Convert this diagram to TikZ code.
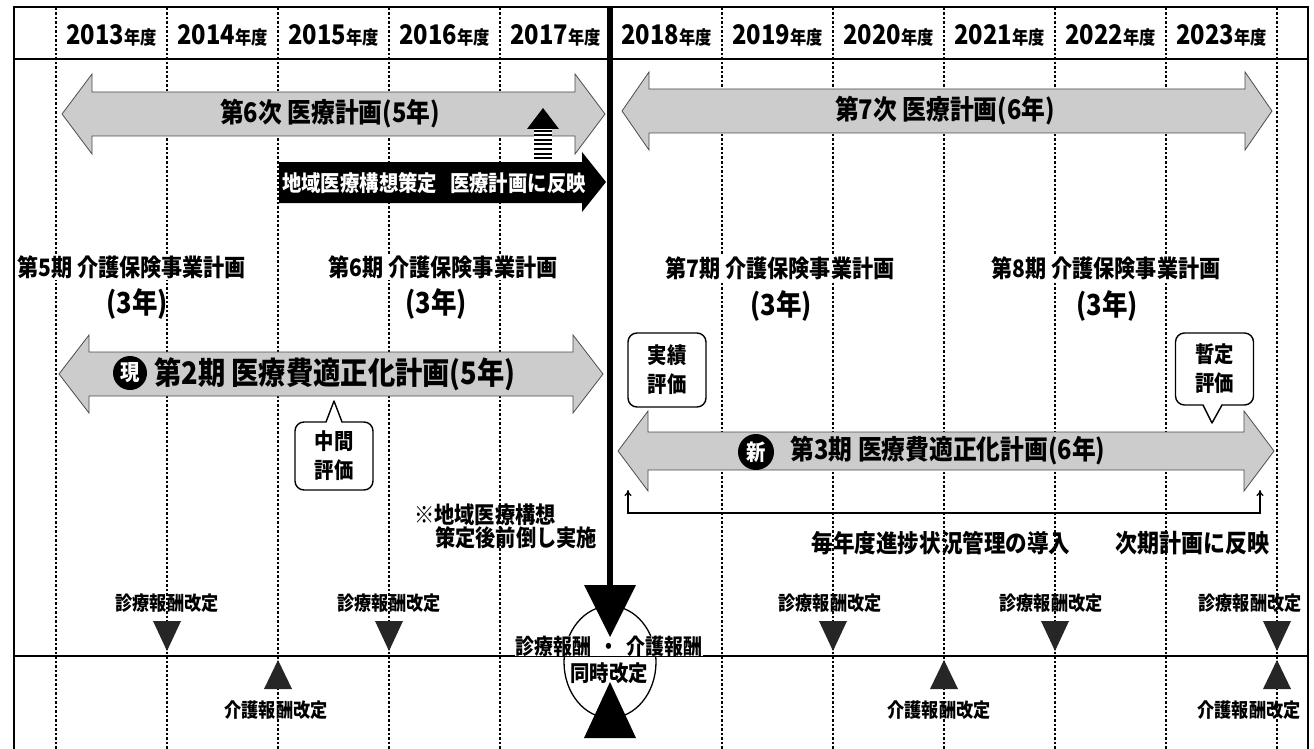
\documentclass[tikz,border=0pt]{standalone}
\usepackage{fontspec}
\usetikzlibrary{shapes.geometric,arrows.meta}
\newfontfamily\jp[FakeStretch=0.88]{Noto Sans CJK JP}
\newcommand\jpsz[1]{\fontsize{#1pt}{#1pt}\selectfont}
\newcommand\dblarr[6]{% x1,x2,yc,body half,head half,head length
  \draw[stip] (#1,#3) -- (#1+#6,#3-#5) -- (#1+#6,#3-#4) -- (#2-#6,#3-#4) -- (#2-#6,#3-#5) -- (#2,#3)
    -- (#2-#6,#3+#5) -- (#2-#6,#3+#4) -- (#1+#6,#3+#4) -- (#1+#6,#3+#5) -- cycle;}
\tikzset{
  frameline/.style={line width=2.2pt},
  gridline/.style={line width=1.6pt, dash pattern=on 2.5pt off 2pt},
  stip/.style={fill=black!20, draw=black!70, line width=0.8pt},
  yearlbl/.style={font=\jp\bfseries, inner sep=1pt},
  txt/.style={font=\jp\bfseries\jpsz{#1}, inner sep=1pt},
  kaigo/.style={font=\jp\bfseries\jpsz{24}, inner sep=1pt, fill=white},
  callbox/.style={draw, line width=1.4pt, rounded corners=9pt, fill=white, minimum width=78pt,
    align=center, font=\jp\bfseries\fontsize{22pt}{29pt}\selectfont, inner sep=0pt},
  blackdisc/.style={circle, fill=black, text=white, inner sep=0pt, font=\jp\bfseries\jpsz{22}},
  revtri/.style={fill=black!85},
}
\begin{document}
\begin{tikzpicture}[x=1pt,y=-1pt]
\useasboundingbox (0,0) rectangle (1314,749);
\fill[white] (0,0) rectangle (1314,749);

% year grid
\foreach \gx in {56,167,278,389,500,722,833,944,1055,1166,1277}
  \draw[gridline] (\gx,8) -- (\gx,749);

% frame
\draw[frameline] (14,749) -- (14,7) -- (1308,7) -- (1308,749);
\draw[frameline] (14,59) -- (1308,59);
\draw[line width=6pt] (610,7) -- (610,588);

% years
\foreach \yr/\cx in {2013/111.5,2014/222.5,2015/333.5,2016/444.5,2017/555.5,
                     2018/666.5,2019/777.5,2020/888.5,2021/999.5,2022/1110.5,2023/1221.5}
  \node[yearlbl] (y\yr) at (\cx,35) {\jpsz{27}\yr\jpsz{18.5}年度};

% revision line
\draw[line width=1.6pt] (14,656) -- (1308,656);

% plan arrows
\dblarr{62}{605}{114}{22}{40}{30}
\dblarr{622}{1272}{111}{22}{39}{27}
\dblarr{59}{603}{374}{22}{39}{30}
\dblarr{618}{1274}{451}{19}{40}{30}

\node[txt=27] (t6) at (330,114) {第6次 医療計画(5年)};
\node[txt=27] (t7) at (945,111) {第7次 医療計画(6年)};
\node[txt=31] (t2) at (335,374) {第2期 医療費適正化計画(5年)};
\node[txt=27] (t3) at (948,451) {第3期 医療費適正化計画(6年)};
\node[blackdisc, minimum size=34pt] (gen) at (130,373) {現};
\node[blackdisc, minimum size=36pt] (shin) at (756,452) {新};

% black arrow
\fill (279,162) -- (582,162) -- (582,152) -- (606,182) -- (582,212) -- (582,203) -- (279,203) -- cycle;
\node[txt=22, text=white] (kousou) at (434,183) {地域医療構想策定\hspace{0.6em}医療計画に反映};

% striped up arrow
\fill (527,129) -- (543,108) -- (559,129) -- cycle;
\fill[white] (534,129) rectangle (552,161);
\foreach \sy in {131,135.5,...,159}
  \draw[line width=2pt] (534,\sy) -- (552,\sy);

% care insurance plans
\node[kaigo, anchor=west] (k5) at (16,267) {第5期 介護保険事業計画};
\node[kaigo] (k6) at (443,267) {第6期 介護保険事業計画};
\node[kaigo] (k7) at (780,268) {第7期 介護保険事業計画};
\node[kaigo] (k8) at (1106,268) {第8期 介護保険事業計画};
\node[txt=29] (n5) at (137,304) {(3年)};
\node[txt=29] (n6) at (436,304) {(3年)};
\node[txt=29] (n7) at (781,306) {(3年)};
\node[txt=29] (n8) at (1107,306) {(3年)};

% callouts
\node[callbox, minimum height=68pt] (cm) at (334,456) {中間\\評価};
\fill[white] (326,424) -- (334,401) -- (342,424) -- cycle;
\draw[line width=1.4pt, line join=round] (326,422) -- (334,401) -- (342,422);

\node[callbox, minimum height=74pt] (cj) at (667,370) {実績\\評価};

\node[callbox, minimum height=72pt] (cz) at (1214.5,369) {暫定\\評価};
\fill[white] (1203,403) -- (1212,423) -- (1222,403) -- cycle;
\draw[line width=1.4pt, line join=round] (1203,405) -- (1212,423) -- (1222,405);

% progress bracket
\coordinate (brL) at (628,490);
\coordinate (brR) at (1260,490);
\draw[line width=1.2pt, {To[length=6pt,width=7pt]}-{To[length=6pt,width=7pt]}] (brL) -- ++(0,23) -| (brR);
\node[txt=24.5] (kanri) at (941,543) {毎年度進捗状況管理の導入};
\node[txt=25] (jiki) at (1192,543) {次期計画に反映};

% note
\node[txt=23, anchor=west] (note1) at (413,515) {※地域医療構想};
\node[txt=23, anchor=west] (note2) at (434,538) {策定後前倒し実施};

% revisions
\foreach \tx/\lx in {167/167,389/389,833/830,1055/1051,1277/1250}{
  \fill[revtri] (\tx-14,621) -- (\tx+14,621) -- (\tx,651) -- cycle;
  \node[txt=19.5] (sr\tx) at (\lx,603) {診療報酬改定};
}
\foreach \tx/\lx in {278/276,944/939,1277/1249}{
  \fill[revtri] (\tx,660) -- (\tx+14,689) -- (\tx-14,689) -- cycle;
  \node[txt=19.5] (kr\tx) at (\lx,710) {介護報酬改定};
}

% simultaneous revision
\node[ellipse, draw, line width=1.3pt, minimum width=92pt, minimum height=112pt] (el) at (610,662) {};
\node[txt=21.5, fill=white, inner ysep=0pt] (simul) at (609,646) {診療報酬\hspace{8pt}・\hspace{8pt}介護報酬};
\node[txt=22] (douji) at (609,673) {同時改定};
\fill (584,585) -- (636,585) -- (610,637) -- cycle;
\fill (610,682) -- (636,738) -- (584,738) -- cycle;
\end{tikzpicture}
\end{document}
